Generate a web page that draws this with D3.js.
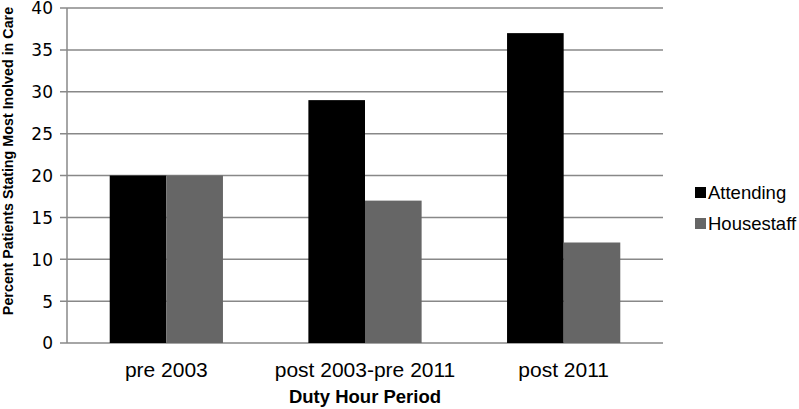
<!DOCTYPE html>
<html>
<head>
<meta charset="utf-8">
<script src="https://cdn.jsdelivr.net/npm/d3@7"></script>
<style>
  body { margin: 0; background: #fff; }
  svg { display: block; }
</style>
</head>
<body>
<div id="chart"></div>
<script>
// data
const periods = ["pre 2003", "post 2003-pre 2011", "post 2011"];
const seriesNames = ["Attending", "Housestaff"];
const attending = [20, 29, 37];
const housestaff = [20, 17, 12];
const yTicks = [0, 5, 10, 15, 20, 25, 30, 35, 40];
const colors = ["#000000", "#666666"];

const W = 799, H = 409;
const margin = {top: 8, right: 136, bottom: 66, left: 67};
const width = W - margin.left - margin.right,
      height = H - margin.top - margin.bottom;

const svg = d3.select("#chart").append("svg")
    .attr("width", W)
    .attr("height", H);

const g = svg.append("g")
    .attr("transform", "translate(" + margin.left + "," + margin.top + ")");

const x = d3.scaleBand().domain(periods).range([0, width]).padding(0);
const x1 = d3.scaleBand().domain(seriesNames)
    .range([x.bandwidth() * 0.215, x.bandwidth() * 0.785]).padding(0);
const y = d3.scaleLinear().domain([0, 40]).range([height, 0]);

// gridlines
g.selectAll(".grid")
  .data(yTicks)
  .enter().append("line")
    .attr("x1", -7)
    .attr("x2", width)
    .attr("y1", d => y(d))
    .attr("y2", d => y(d))
    .attr("stroke", "#888")
    .attr("stroke-width", 1.5);

// y axis line
g.append("line")
  .attr("x1", 0).attr("x2", 0)
  .attr("y1", 0).attr("y2", height)
  .attr("stroke", "#888")
  .attr("stroke-width", 1.5);

// y tick labels
g.selectAll(".ylab")
  .data(yTicks)
  .enter().append("text")
    .attr("x", -14)
    .attr("y", d => y(d))
    .attr("dy", "0.38em")
    .attr("text-anchor", "end")
    .style("font-family", "DejaVu Sans, sans-serif")
    .style("font-size", "17px")
    .attr("fill", "#000")
    .text(d => d);

// bars
const rows = periods.map((p, i) => ({period: p, values: [attending[i], housestaff[i]]}));
const groups = g.selectAll(".grp")
  .data(rows)
  .enter().append("g")
    .attr("transform", d => "translate(" + x(d.period) + ",0)");

groups.selectAll("rect")
  .data(d => d.values.map((v, j) => ({name: seriesNames[j], value: v, j: j})))
  .enter().append("rect")
    .attr("x", d => x1(d.name))
    .attr("y", d => y(d.value))
    .attr("width", x1.bandwidth())
    .attr("height", d => height - y(d.value))
    .attr("fill", d => colors[d.j]);

// x tick labels
g.selectAll(".xlab")
  .data(periods)
  .enter().append("text")
    .attr("x", d => x(d) + x.bandwidth() / 2)
    .attr("y", height + 34)
    .attr("text-anchor", "middle")
    .style("font-family", "Liberation Sans, Arial, sans-serif")
    .style("font-size", "21px")
    .attr("fill", "#000")
    .text(d => d);

// axis titles
g.append("text")
  .attr("x", width / 2)
  .attr("y", height + 60)
  .attr("text-anchor", "middle")
  .style("font-family", "Liberation Sans, Arial, sans-serif")
  .style("font-size", "18.5px")
  .style("font-weight", "bold")
  .text("Duty Hour Period");

svg.append("text")
  .attr("transform", "translate(13,161) rotate(-90)")
  .attr("text-anchor", "middle")
  .style("font-family", "Liberation Sans, Arial, sans-serif")
  .style("font-size", "14.3px")
  .style("font-weight", "bold")
  .text("Percent Patients Stating Most Inolved in Care");

// legend
const legend = svg.append("g")
  .attr("transform", "translate(695,0)");
seriesNames.forEach((n, i) => {
  const ly = 192 + i * 31;
  legend.append("rect")
    .attr("x", 0)
    .attr("y", ly - 5)
    .attr("width", 11)
    .attr("height", 11)
    .attr("fill", colors[i]);
  legend.append("text")
    .attr("x", 13)
    .attr("y", ly)
    .attr("dy", "0.36em")
    .style("font-family", "Liberation Sans, Arial, sans-serif")
    .style("font-size", "18.5px")
    .attr("fill", "#000")
    .text(n);
});
</script>
</body>
</html>
